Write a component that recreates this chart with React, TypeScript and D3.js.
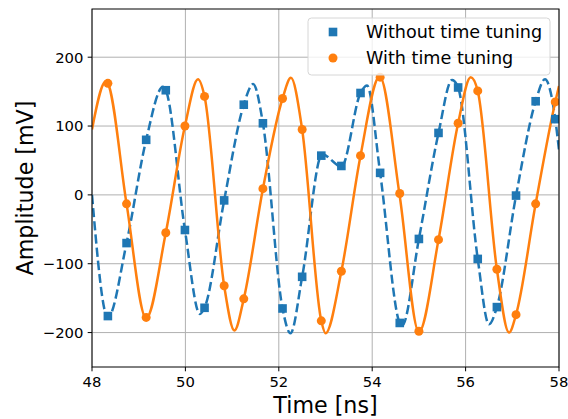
import React from "react";
import * as d3 from "d3";

// Sample times [ns]
const sampleTimes = [
  48.34, 48.74, 49.16, 49.58, 49.99, 50.41, 50.83, 51.25, 51.66, 52.08, 52.5, 52.91,
  53.34, 53.75, 54.17, 54.59, 55.0, 55.42, 55.84, 56.26, 56.67, 57.08, 57.5, 57.92,
];
// Sampled amplitudes [mV]
const withoutTuning = [
  -176, -70, 80, 152, -51, -164, -8, 131, 104, -165, -119, 57,
  42, 148, 32, -186, -64, 90, 156, -93, -163, -1, 136, 110,
];
const withTuning = [
  162, -13, -178, -55, 100, 143, -132, -151, 9, 140, 95, -183,
  -111, 57, 171, 2, -198, -65, 104, 151, -108, -174, -13, 135,
];

// Interpolated waveform key points (samples + extrema)
const withoutCurveT = [
  48.0, 48.34, 48.74, 49.16, 49.52, 49.58, 49.99, 50.31, 50.41, 50.83, 51.25, 51.45,
  51.66, 52.08, 52.25, 52.5, 52.93, 53.34, 53.75, 53.89, 54.17, 54.59, 54.64, 55.0,
  55.42, 55.71, 55.84, 56.26, 56.5, 56.67, 57.08, 57.5, 57.7, 57.92, 58.0,
];
const withoutCurveV = [
  0, -178, -70, 80, 157, 152, -51, -173, -164, -8, 131, 161,
  104, -165, -201, -119, 59, 41, 148, 159, 32, -186, -190, -64,
  90, 167, 156, -93, -188, -163, -1, 136, 168, 110, 65,
];
const withCurveT = [
  48.0, 48.3, 48.34, 48.74, 49.16, 49.58, 49.99, 50.27, 50.41, 50.83, 51.05, 51.25,
  51.66, 52.08, 52.26, 52.5, 52.91, 53.0, 53.34, 53.75, 54.16, 54.59, 55.0, 55.42,
  55.84, 56.11, 56.26, 56.67, 56.93, 57.08, 57.5, 57.92, 58.0,
];
const withCurveV = [
  95, 165, 162, -13, -179, -55, 100, 168, 143, -132, -197, -151,
  9, 140, 170, 95, -183, -201, -111, 57, 172, -2, -199, -65,
  104, 171, 151, -108, -200, -174, -13, 135, 158,
];

const xTicks = [48, 50, 52, 54, 56, 58];
const yTicks = [-200, -100, 0, 100, 200];
const seriesNames = ["Without time tuning", "With time tuning"];

const W = 568;
const H = 419;
const M = { left: 92, right: 559, top: 9, bottom: 367 };
const BLUE = "#1f77b4";
const ORANGE = "#ff7f0e";
const FONT = "DejaVu Sans, sans-serif";

export default function App() {
  const x = d3.scaleLinear().domain([48, 58]).range([M.left, M.right]);
  const y = d3.scaleLinear().domain([-250, 270]).range([M.bottom, M.top]);

  const line = d3
    .line<[number, number]>()
    .x((d) => x(d[0]))
    .y((d) => y(d[1]))
    .curve(d3.curveMonotoneX);

  const blueCurve = withoutCurveT.map((t, i) => [t, withoutCurveV[i]] as [number, number]);
  const orangeCurve = withCurveT.map((t, i) => [t, withCurveV[i]] as [number, number]);
  const fmt = (v: number) => (v < 0 ? "\u2212" + Math.abs(v) : String(v));
  const sq = 8.6;

  return (
    <svg
      width={W}
      height={H}
      style={{ position: "absolute", left: 0, top: 0, background: "#fff" }}
      fontFamily={FONT}
    >
      <defs>
        <clipPath id="plotclip">
          <rect x={M.left} y={M.top} width={M.right - M.left} height={M.bottom - M.top} />
        </clipPath>
      </defs>
      {/* grid */}
      {xTicks.map((t) => (
        <line key={"gx" + t} x1={x(t)} x2={x(t)} y1={M.top} y2={M.bottom} stroke="#b0b0b0" strokeWidth={1} />
      ))}
      {yTicks.map((t) => (
        <line key={"gy" + t} x1={M.left} x2={M.right} y1={y(t)} y2={y(t)} stroke="#b0b0b0" strokeWidth={1} />
      ))}
      <g clipPath="url(#plotclip)">
        <path d={line(blueCurve) || ""} fill="none" stroke={BLUE} strokeWidth={2.5} strokeDasharray="9.2,4" />
        <path d={line(orangeCurve) || ""} fill="none" stroke={ORANGE} strokeWidth={2.5} />
        {sampleTimes.map((t, i) => (
          <rect
            key={"s" + i}
            x={x(t) - sq / 2}
            y={y(withoutTuning[i]) - sq / 2}
            width={sq}
            height={sq}
            fill={BLUE}
          />
        ))}
        {sampleTimes.map((t, i) => (
          <circle key={"c" + i} cx={x(t)} cy={y(withTuning[i])} r={4.5} fill={ORANGE} />
        ))}
      </g>
      {/* frame */}
      <rect
        x={M.left}
        y={M.top}
        width={M.right - M.left}
        height={M.bottom - M.top}
        fill="none"
        stroke="#000"
        strokeWidth={1}
      />
      {/* x ticks */}
      {xTicks.map((t) => (
        <g key={"xt" + t}>
          <line x1={x(t)} x2={x(t)} y1={M.bottom} y2={M.bottom + 4.3} stroke="#000" strokeWidth={1} />
          <text x={x(t)} y={M.bottom + 20} textAnchor="middle" fontSize={14.8} fill="#000">
            {t}
          </text>
        </g>
      ))}
      {/* y ticks */}
      {yTicks.map((t) => (
        <g key={"yt" + t}>
          <line x1={M.left - 4.3} x2={M.left} y1={y(t)} y2={y(t)} stroke="#000" strokeWidth={1} />
          <text x={M.left - 8.6} y={y(t)} dy="0.36em" textAnchor="end" fontSize={14.8} fill="#000">
            {fmt(t)}
          </text>
        </g>
      ))}
      {/* axis labels */}
      <text x={(M.left + M.right) / 2} y={413} textAnchor="middle" fontSize={22.2} fill="#000">
        Time [ns]
      </text>
      <text
        transform={`translate(33,${(M.top + M.bottom) / 2}) rotate(-90)`}
        textAnchor="middle"
        fontSize={22.2}
        fill="#000"
      >
        Amplitude [mV]
      </text>
      {/* legend */}
      <g>
        <rect x={308} y={18} width={242} height={57} rx={3.5} fill="#fff" fillOpacity={0.8} stroke="#d6d6d6" strokeWidth={1} />
        <rect x={333 - sq / 2} y={32 - sq / 2} width={sq} height={sq} fill={BLUE} />
        <text x={366} y={32} dy="0.36em" fontSize={17.6} fill="#000">
          {seriesNames[0]}
        </text>
        <circle cx={333} cy={58} r={4.5} fill={ORANGE} />
        <text x={366} y={58} dy="0.36em" fontSize={17.6} fill="#000">
          {seriesNames[1]}
        </text>
      </g>
    </svg>
  );
}
